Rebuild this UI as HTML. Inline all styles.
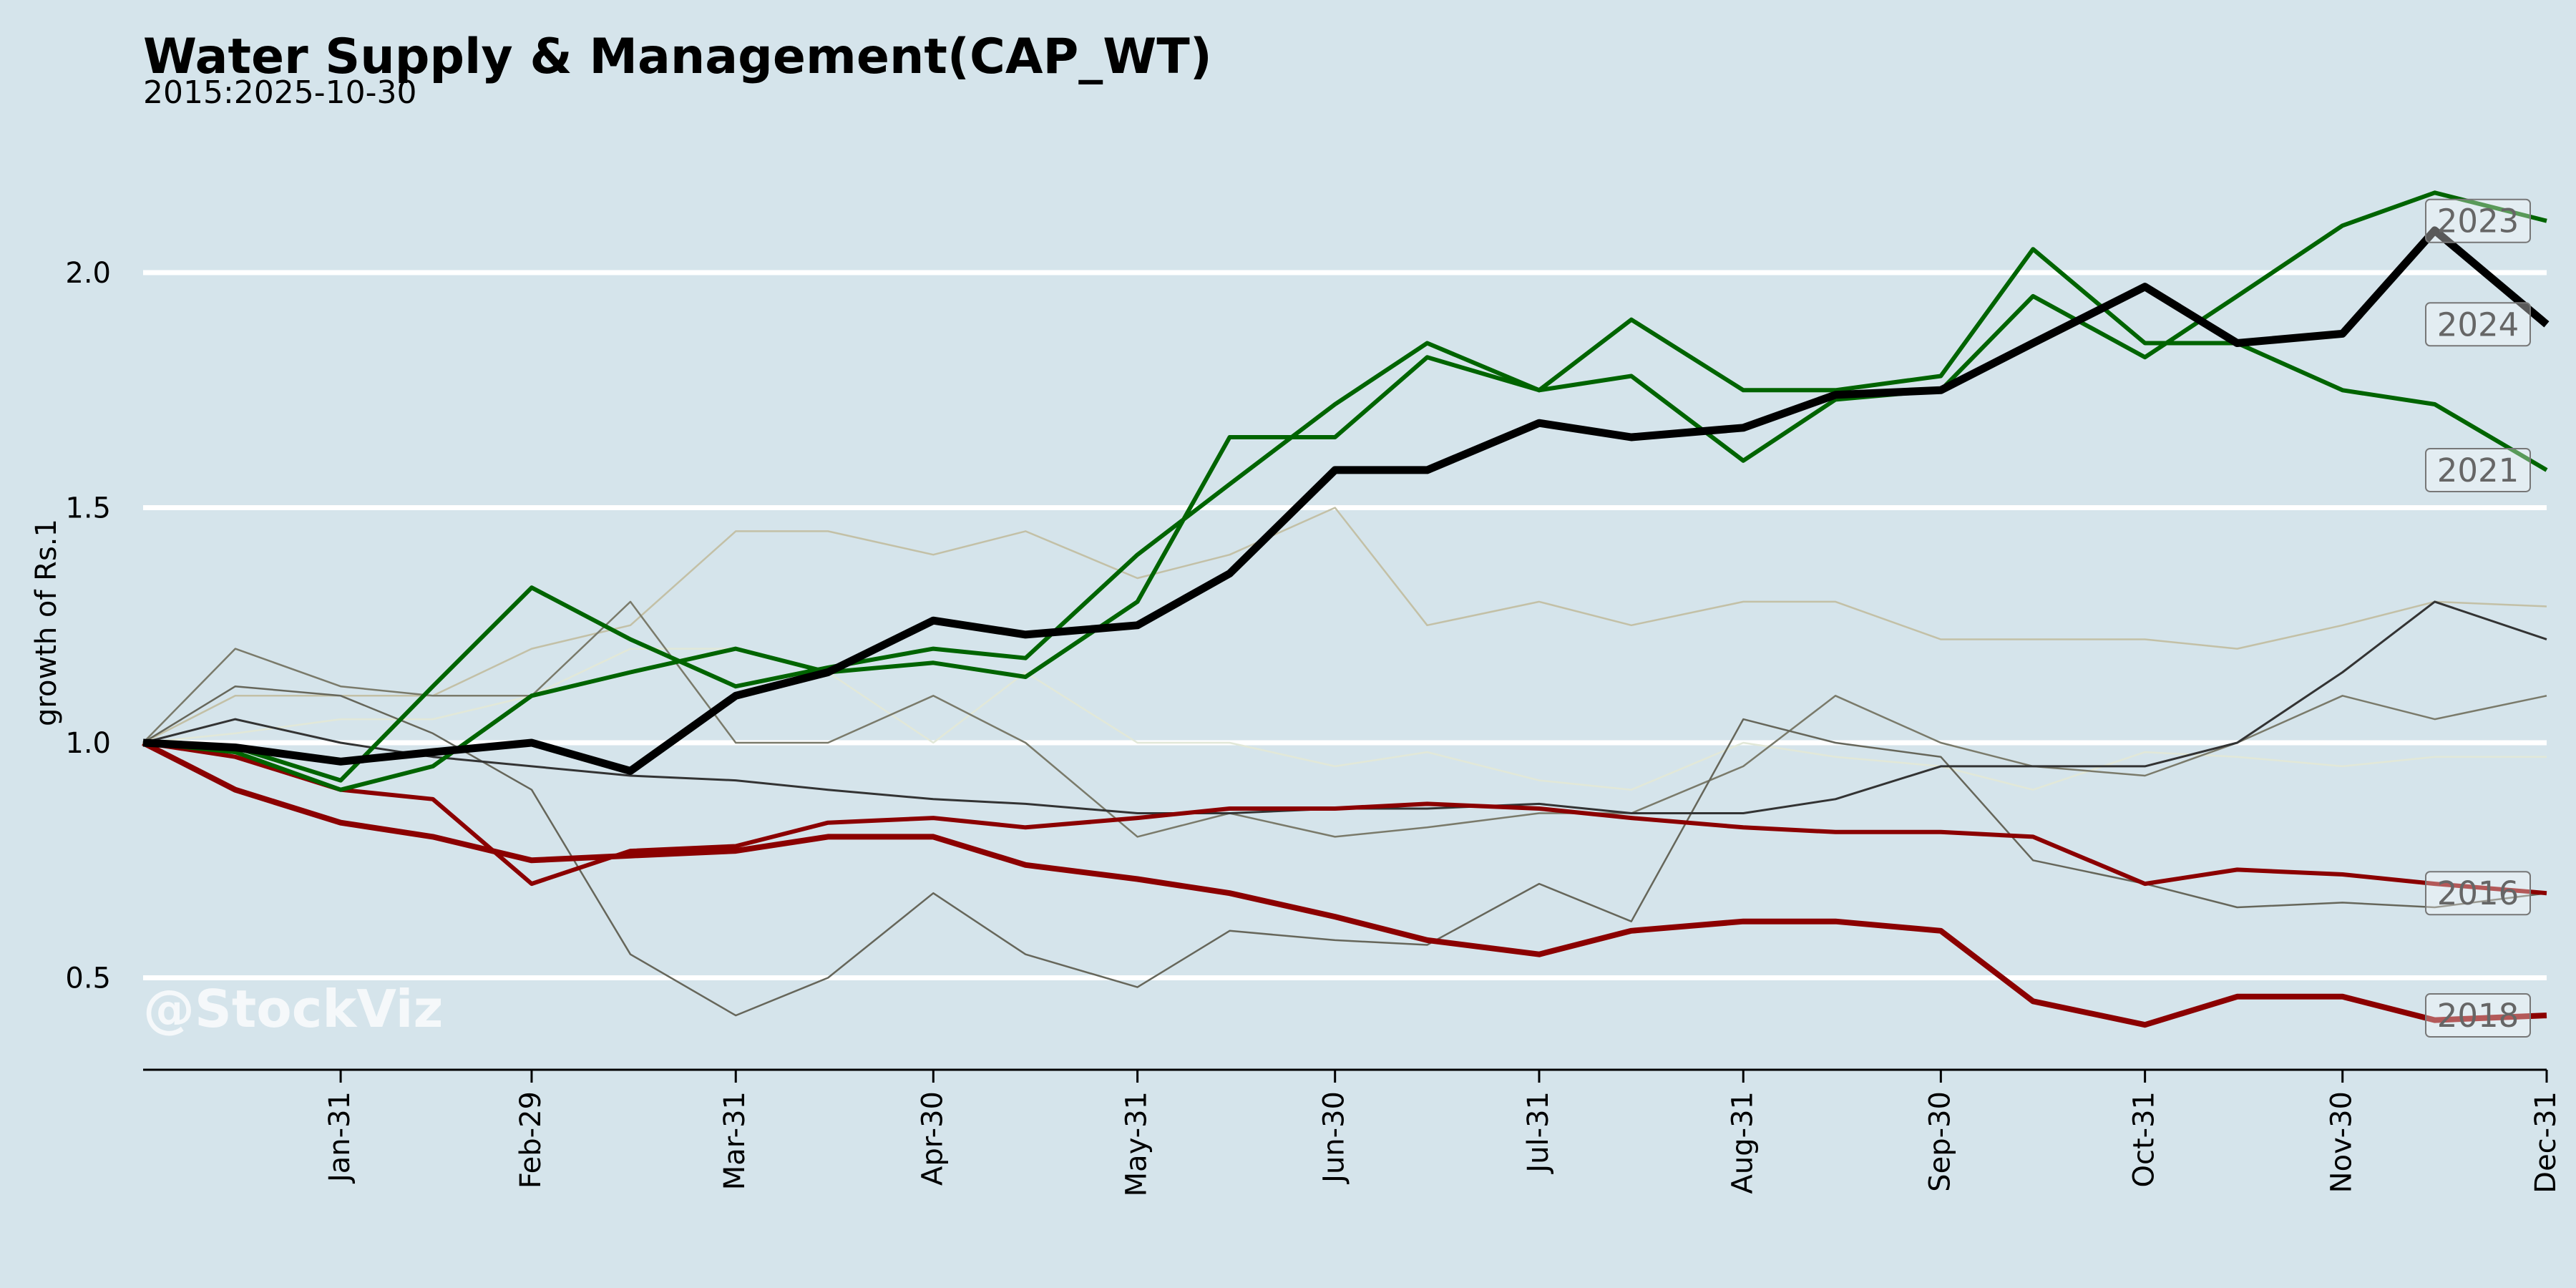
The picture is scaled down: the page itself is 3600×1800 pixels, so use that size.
<!DOCTYPE html>
<html><head><meta charset="utf-8"><style>
html,body{margin:0;padding:0;background:#d5e4eb;}
svg{display:block;font-family:"DejaVu Sans","Liberation Sans",sans-serif;}
</style></head><body>
<svg id="chart" width="3600" height="1800" viewBox="0 0 3600 1800" xmlns="http://www.w3.org/2000/svg">
<rect width="3600" height="1800" fill="#d5e4eb"/>
<text x="200" y="102" font-size="68" font-weight="bold" fill="#000">Water Supply &amp; Management(CAP_WT)</text>
<text x="200" y="144" font-size="44" fill="#000">2015:2025-10-30</text>
<text transform="translate(78,870) rotate(-90)" text-anchor="middle" font-size="40" fill="#000">growth of Rs.1</text>
<g id="grid"></g>
<g id="series"></g>
<text x="200" y="1435" font-size="72" font-weight="bold" fill="#ffffff" fill-opacity="0.75">@StockViz</text>
<g id="axes"></g>
<g id="labels"></g>
</svg>
<script>
const sampleDays = [1,15,31,45,60,75,91,105,121,135,152,166,182,196,213,227,244,258,274,288,305,319,335,349,366];
const yTicks = [0.5,1.0,1.5,2.0];
const yTickLabels = ["0.5","1.0","1.5","2.0"];
const xTickDays = [31,60,91,121,152,182,213,244,274,305,335,366];
const xTickLabels = ["Jan-31","Feb-29","Mar-31","Apr-30","May-31","Jun-30","Jul-31","Aug-31","Sep-30","Oct-31","Nov-30","Dec-31"];
const s2015 = [1.0,1.02,1.05,1.05,1.1,1.2,1.2,1.15,1.0,1.15,1.0,1.0,0.95,0.98,0.92,0.9,1.0,0.97,0.95,0.9,0.98,0.97,0.95,0.97,0.97];
const s2017 = [1.0,1.1,1.1,1.1,1.2,1.25,1.45,1.45,1.4,1.45,1.35,1.4,1.5,1.25,1.3,1.25,1.3,1.3,1.22,1.22,1.22,1.2,1.25,1.3,1.29];
const s2019 = [1.0,1.2,1.12,1.1,1.1,1.3,1.0,1.0,1.1,1.0,0.8,0.85,0.8,0.82,0.85,0.85,0.95,1.1,1.0,0.95,0.93,1.0,1.1,1.05,1.1];
const s2020 = [1.0,1.12,1.1,1.02,0.9,0.55,0.42,0.5,0.68,0.55,0.48,0.6,0.58,0.57,0.7,0.62,1.05,1.0,0.97,0.75,0.7,0.65,0.66,0.65,0.68];
const s2022 = [1.0,1.05,1.0,0.97,0.95,0.93,0.92,0.9,0.88,0.87,0.85,0.85,0.86,0.86,0.87,0.85,0.85,0.88,0.95,0.95,0.95,1.0,1.15,1.3,1.22];
const s2016 = [1.0,0.97,0.9,0.88,0.7,0.77,0.78,0.83,0.84,0.82,0.84,0.86,0.86,0.87,0.86,0.84,0.82,0.81,0.81,0.8,0.7,0.73,0.72,0.7,0.68];
const s2018 = [1.0,0.9,0.83,0.8,0.75,0.76,0.77,0.8,0.8,0.74,0.71,0.68,0.63,0.58,0.55,0.6,0.62,0.62,0.6,0.45,0.4,0.46,0.46,0.41,0.42];
const s2021 = [1.0,0.99,0.92,1.12,1.33,1.22,1.12,1.16,1.2,1.18,1.4,1.55,1.72,1.85,1.75,1.9,1.75,1.75,1.78,2.05,1.85,1.85,1.75,1.72,1.58];
const s2023 = [1.0,0.98,0.9,0.95,1.1,1.15,1.2,1.15,1.17,1.14,1.3,1.65,1.65,1.82,1.75,1.78,1.6,1.73,1.75,1.95,1.82,1.95,2.1,2.17,2.11];
const s2024 = [1.0,0.99,0.96,0.98,1.0,0.94,1.1,1.15,1.26,1.23,1.25,1.36,1.58,1.58,1.68,1.65,1.67,1.74,1.75,1.85,1.97,1.85,1.87,2.09,1.89];

const NS="http://www.w3.org/2000/svg";
const X0=200,X1=3559,DAYMAX=366;
function xs(d){return X0+(d-1)*(X1-X0)/(DAYMAX-1);}
function ys(v){return 1038-(v-1)*657;}
function mk(tag,attrs,parent){const e=document.createElementNS(NS,tag);for(const k in attrs)e.setAttribute(k,attrs[k]);parent.appendChild(e);return e;}

const grid=document.getElementById('grid');
yTicks.forEach((t,i)=>{
  const l=mk('line',{x1:X0,x2:X1,y1:ys(t),y2:ys(t),stroke:'#fff','stroke-width':7},grid);
  
  
  const tx=mk('text',{x:155,y:ys(t)+14,'text-anchor':'end','font-size':40,fill:'#000'},grid);
  tx.textContent=yTickLabels[i];
  
  
});

const seriesG=document.getElementById('series');
function drawSeries(vals,color,w,name){
  const pts=vals.map((v,i)=>xs(sampleDays[i]).toFixed(1)+','+ys(v).toFixed(1)).join(' ');
  const p=mk('polyline',{points:pts,fill:'none',stroke:color,'stroke-width':w,'stroke-linejoin':'round'},seriesG);
  
  
}
drawSeries(s2015,'#e2e8d8',2.5,'line-2015');
drawSeries(s2017,'#c3c0a6',2.5,'line-2017');
drawSeries(s2019,'#7a7a6a',2.5,'line-2019');
drawSeries(s2020,'#66665a',2.5,'line-2020');
drawSeries(s2022,'#333333',3,'line-2022');
drawSeries(s2016,'#8b0000',6,'line-2016');
drawSeries(s2018,'#8b0000',8,'line-2018');
drawSeries(s2021,'#006400',6,'line-2021');
drawSeries(s2023,'#006400',6,'line-2023');
drawSeries(s2024,'#000000',11,'line-2024');

const axes=document.getElementById('axes');
const ax=mk('line',{x1:X0,x2:X1,y1:1495,y2:1495,stroke:'#000','stroke-width':3},axes);


xTickDays.forEach((d,i)=>{
  const t=mk('line',{x1:xs(d),x2:xs(d),y1:1495,y2:1513,stroke:'#000','stroke-width':3},axes);
  
  
  const tx=mk('text',{transform:'translate('+(xs(d)+12)+',1525) rotate(-90)','text-anchor':'end','font-size':40,fill:'#000'},axes);
  tx.textContent=xTickLabels[i];
  
  
});

const labG=document.getElementById('labels');
const endLabels=["2023","2024","2021","2016","2018"];
const endVals=[s2023,s2024,s2021,s2016,s2018];
endLabels.forEach((lab,i)=>{
  const v=endVals[i][endVals[i].length-1];
  const y=ys(v);
  const r=mk('rect',{x:3390,y:y-30,width:146,height:60,rx:6,fill:'#ffffff','fill-opacity':0.35,stroke:'#777','stroke-width':2},labG);
  
  
  const t=mk('text',{x:3463,y:y+16,'text-anchor':'middle','font-size':45,fill:'#666'},labG);
  t.textContent=lab;
  
  
});
</script>
</body></html>
